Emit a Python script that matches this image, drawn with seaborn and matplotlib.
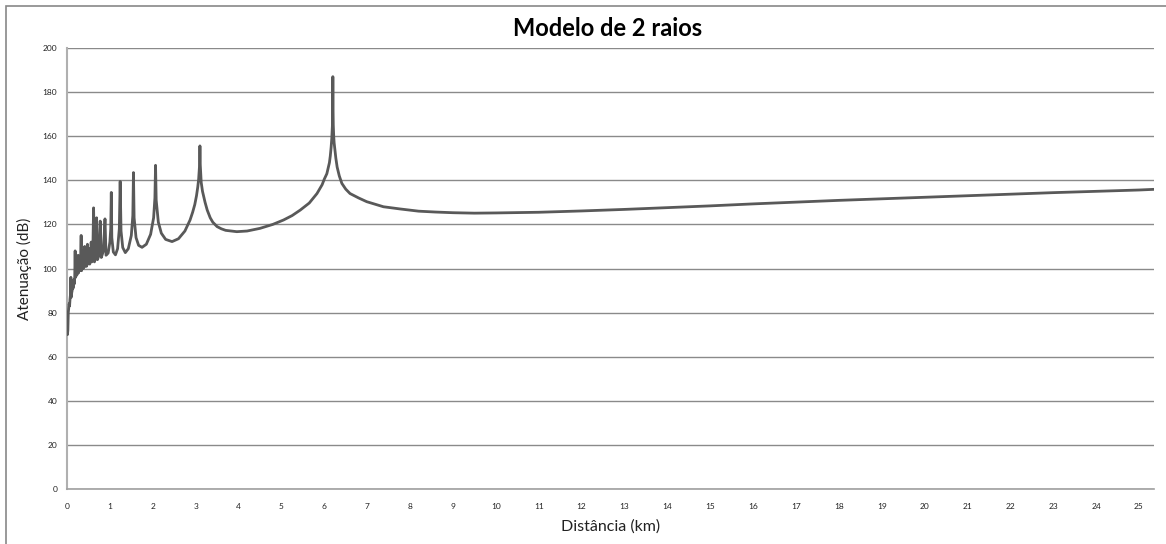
import matplotlib
matplotlib.use("Agg")
import matplotlib.pyplot as plt
import seaborn as sns
import pandas as pd
from matplotlib.patches import Rectangle

# Two-ray path loss: attenuation (dB) versus link distance (km)
distance_km = [
    0.000, 0.010, 0.020, 0.030, 0.040, 0.050, 0.060, 0.070, 0.080, 0.090,
    0.100, 0.110, 0.120, 0.130, 0.140, 0.150, 0.160, 0.170, 0.180, 0.190,
    0.200, 0.210, 0.220, 0.230, 0.240, 0.250, 0.260, 0.270, 0.280, 0.290,
    0.300, 0.310, 0.320, 0.330, 0.340, 0.350, 0.360, 0.370, 0.380, 0.390,
    0.400, 0.413, 0.425, 0.443, 0.455, 0.477, 0.490, 0.517, 0.530, 0.550,
    0.564, 0.580, 0.600, 0.620, 0.640, 0.665, 0.690, 0.710, 0.745, 0.775,
    0.800, 0.850, 0.886, 0.910, 0.960, 1.000, 1.020, 1.033, 1.045, 1.080,
    1.130, 1.180, 1.220, 1.240, 1.260, 1.300, 1.360, 1.430, 1.500, 1.535,
    1.550, 1.565, 1.610, 1.670, 1.750, 1.850, 1.950, 2.020, 2.050, 2.065,
    2.080, 2.130, 2.200, 2.300, 2.450, 2.600, 2.750, 2.870, 2.930, 2.980,
    3.020, 3.050, 3.070, 3.092, 3.100, 3.108, 3.130, 3.160, 3.190, 3.220,
    3.270, 3.340, 3.400, 3.500, 3.600, 3.700, 3.960, 4.200, 4.500, 4.800,
    5.050, 5.250, 5.440, 5.650, 5.830, 5.950, 6.000, 6.060, 6.090, 6.120,
    6.140, 6.160, 6.175, 6.190, 6.195, 6.200, 6.205, 6.210, 6.220, 6.230,
    6.250, 6.270, 6.300, 6.350, 6.410, 6.500, 6.600, 6.700, 6.800, 6.990,
    7.380, 7.770, 8.200, 8.600, 9.000, 9.500, 10.00, 11.00, 12.00, 13.00,
    14.00, 15.00, 16.00, 17.00, 18.00, 19.00, 20.00, 21.00, 22.00, 23.00,
    24.00, 25.00, 25.35,
]
attenuation_db = [
    75.0, 70.0, 72.0, 80.0, 82.0, 84.0, 83.0, 86.0, 88.0, 96.0,
    87.0, 89.0, 90.0, 94.0, 91.0, 92.0, 95.0, 93.0, 96.0, 108.0,
    96.0, 97.0, 103.0, 97.0, 101.0, 98.0, 106.0, 98.0, 102.0, 99.0,
    104.0, 99.0, 106.0, 115.0, 99.0, 103.0, 100.0, 108.0, 100.0, 104.0,
    101.0, 110.0, 101.0, 109.0, 101.0, 111.0, 102.0, 109.0, 102.0, 104.0,
    112.0, 103.0, 105.0, 127.5, 103.0, 105.0, 123.0, 104.0, 106.0, 121.5,
    105.0, 108.0, 122.5, 106.0, 107.0, 112.0, 118.0, 134.5, 114.0, 107.5,
    106.2, 109.0, 118.0, 139.5, 117.0, 109.5, 107.2, 109.0, 115.0, 124.0,
    143.5, 123.0, 114.0, 110.5, 109.6, 111.0, 115.5, 123.0, 132.0, 146.8,
    131.0, 121.0, 116.0, 113.2, 112.2, 113.5, 117.0, 122.0, 125.5, 129.0,
    133.0, 137.0, 140.5, 147.0, 155.6, 147.0, 139.0, 135.0, 132.5, 130.0,
    126.5, 123.0, 121.0, 119.0, 118.0, 117.3, 116.7, 117.0, 118.2, 120.0,
    122.0, 124.0, 126.5, 129.7, 134.0, 138.0, 140.5, 143.0, 145.5, 148.0,
    151.0, 155.0, 159.0, 165.0, 172.0, 187.0, 172.0, 165.0, 160.0, 157.0,
    153.7, 150.0, 146.0, 142.0, 138.6, 136.0, 134.0, 133.0, 132.0, 130.3,
    128.0, 127.0, 126.0, 125.6, 125.3, 125.1, 125.2, 125.5, 126.1, 126.8,
    127.6, 128.4, 129.3, 130.1, 130.9, 131.6, 132.3, 133.0, 133.7, 134.4,
    135.0, 135.6, 135.9,
]
x_ticks = list(range(0, 26))
y_ticks = list(range(0, 201, 20))

sns.set_theme(style="white")
plt.rcParams["font.family"] = ["Lato", "DejaVu Sans"]

df = pd.DataFrame({"Distância (km)": distance_km, "Atenuação (dB)": attenuation_db})

fig = plt.figure(figsize=(11.66, 5.44), dpi=100)
ax = fig.add_axes([67 / 1166, 55 / 544, (1154 - 67) / 1166, (489 - 48) / 544])

sns.lineplot(data=df, x="Distância (km)", y="Atenuação (dB)", ax=ax,
             color="#595959", linewidth=2.0, sort=False, estimator=None, zorder=3)

ax.set_xlim(0, 25.35)
ax.set_ylim(0, 200)
ax.set_xticks(x_ticks)
ax.set_yticks(y_ticks)
ax.grid(axis="y", color="#8a8a8a", linewidth=1.0, zorder=0)
ax.grid(axis="x", visible=False)

for side in ("top", "right"):
    ax.spines[side].set_visible(False)
ax.spines["left"].set_color("#b0b0b0")
ax.spines["left"].set_linewidth(1.5)
ax.spines["bottom"].set_color("#a0a0a0")
ax.spines["bottom"].set_linewidth(1.2)

ax.tick_params(axis="both", which="major", direction="out", length=4, width=1,
               color="#a0a0a0", labelsize=6, labelcolor="#222222", pad=3)
ax.tick_params(axis="x", pad=6)

ax.set_xlabel("Distância (km)", fontsize=11.5, color="#222222", labelpad=7)
ax.set_ylabel("Atenuação (dB)", fontsize=11, color="#222222", labelpad=8)

fig.text(608 / 1166, 1 - 28 / 544, "Modelo de 2 raios", ha="center", va="center",
         fontsize=17, fontweight="bold", color="black")

# chart-area frame (top and left edges visible)
fig.patches.append(Rectangle((6 / 1166, -0.05), 1.1, 1.05 - 6 / 544,
                             transform=fig.transFigure, fill=False,
                             edgecolor="#888888", linewidth=1.2))

fig.savefig("out.png", dpi=100, facecolor="white")
